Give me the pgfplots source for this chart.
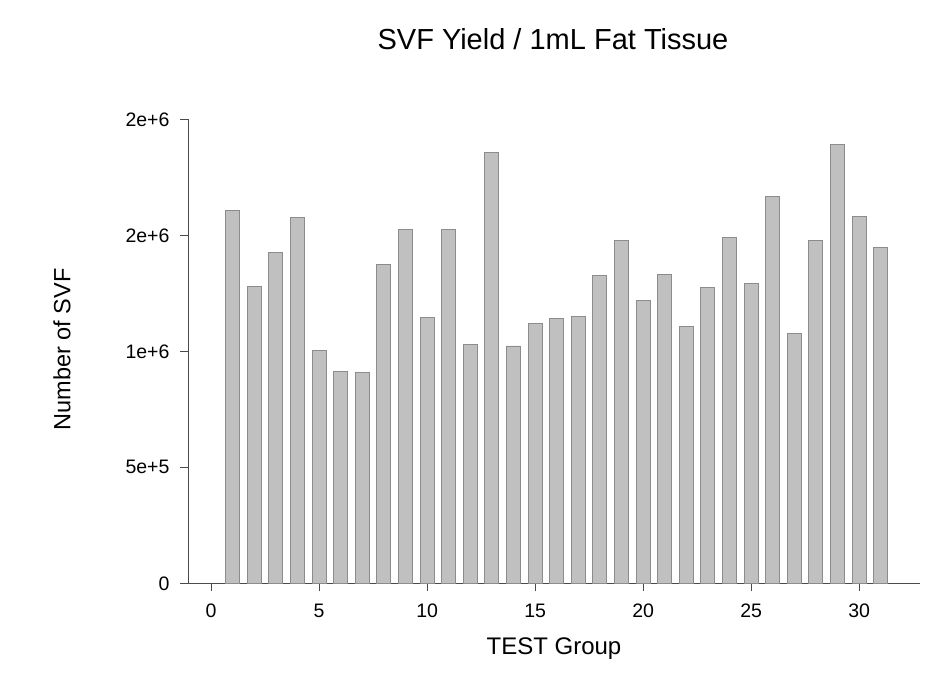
\documentclass[border=0pt]{standalone}
\usepackage{pgfplots}
\pgfplotsset{compat=1.18}
\usepackage{fontspec}
\setmainfont{Liberation Sans}
\definecolor{barfill}{HTML}{C0C0C0}
\definecolor{baredge}{HTML}{8C8C8C}
\definecolor{axcol}{HTML}{4A4A4A}
\begin{document}
\begin{tikzpicture}
\begin{axis}[
  scale only axis,
  width=732pt, height=464pt,
  xmin=-1.07, xmax=32.82,
  ymin=0, ymax=2000000,
  axis lines*=left,
  axis line style={axcol, line width=0.9pt, -},
  tick style={axcol, line width=0.9pt},
  tick align=outside,
  major tick length=8pt,
  xtick={0,5,10,15,20,25,30},
  xticklabels={0,5,10,15,20,25,30},
  ytick={0,500000,1000000,1500000,2000000},
  yticklabels={0,5e+5,1e+6,2e+6,2e+6},
  scaled y ticks=false,
  /pgf/number format/assume math mode=true,
  tick label style={font=\fontsize{19.5}{22}\selectfont},
  xticklabel style={yshift=-9pt, text height=14pt, text depth=0pt, anchor=north},
  yticklabel style={xshift=-7pt},
  title={SVF Yield / 1mL Fat Tissue},
  title style={at={(axis description cs:0.4986,1.159)}, anchor=center, font=\fontsize{29}{32}\selectfont},
  xlabel={TEST Group},
  xlabel style={at={(axis description cs:0.5,-0.140)}, anchor=center, font=\fontsize{24}{27}\selectfont},
  ylabel={Number of SVF},
  ylabel style={at={(axis description cs:-0.172,0.504)}, anchor=center, rotate=0, font=\fontsize{23.5}{26}\selectfont},
  ybar, bar width=14pt,
]
\addplot[fill=barfill, draw=baredge, line width=0.9pt] coordinates {
(1,1609000) (2,1278000) (3,1428000) (4,1575000) (5,1004000)
(6,912000) (7,908000) (8,1373000) (9,1526000) (10,1145000)
(11,1526000) (12,1031000) (13,1856000) (14,1023000) (15,1118000)
(16,1143000) (17,1152000) (18,1326000) (19,1478000) (20,1218000)
(21,1330000) (22,1106000) (23,1274000) (24,1491000) (25,1291000)
(26,1666000) (27,1078000) (28,1478000) (29,1892000) (30,1580000)
(31,1448000)
};
\end{axis}
\path (current axis.south west) ++(-188pt,-91.7pt) rectangle ++(931pt,675pt);
\end{tikzpicture}
\end{document}
